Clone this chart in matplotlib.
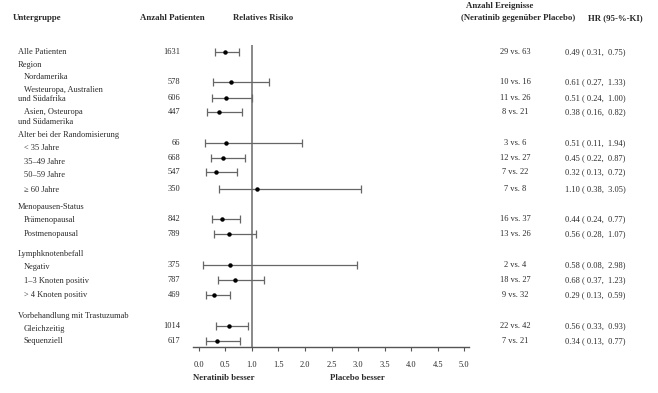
import matplotlib
matplotlib.use("Agg")
import matplotlib.pyplot as plt

# data
subgroups = ["Alle Patienten", "Nordamerika", "Westeuropa, Australien\nund Südafrika",
             "Asien, Osteuropa\nund Südamerika", "< 35 Jahre", "35–49 Jahre", "50–59 Jahre",
             "≥ 60 Jahre", "Prämenopausal", "Postmenopausal", "Negativ",
             "1–3 Knoten positiv", "> 4 Knoten positiv", "Gleichzeitig", "Sequenziell"]
patients = [1631, 578, 606, 447, 66, 668, 547, 350, 842, 789, 375, 787, 469, 1014, 617]
events = ["29 vs. 63", "10 vs. 16", "11 vs. 26", "8 vs. 21", "3 vs. 6", "12 vs. 27",
          "7 vs. 22", "7 vs. 8", "16 vs. 37", "13 vs. 26", "2 vs. 4", "18 vs. 27",
          "9 vs. 32", "22 vs. 42", "7 vs. 21"]
hr = [0.49, 0.61, 0.51, 0.38, 0.51, 0.45, 0.32, 1.10, 0.44, 0.56, 0.58, 0.68, 0.29, 0.56, 0.34]
lo = [0.31, 0.27, 0.24, 0.16, 0.11, 0.22, 0.13, 0.38, 0.24, 0.28, 0.08, 0.37, 0.13, 0.33, 0.13]
hi = [0.75, 1.33, 1.00, 0.82, 1.94, 0.87, 0.72, 3.05, 0.77, 1.07, 2.98, 1.23, 0.59, 0.93, 0.77]
groups = ["Region", "Alter bei der Randomisierung", "Menopausen-Status",
          "Lymphknotenbefall", "Vorbehandlung mit Trastuzumab"]
xticks = [0.0, 0.5, 1.0, 1.5, 2.0, 2.5, 3.0, 3.5, 4.0, 4.5, 5.0]

# layout (pixel rows)
row_y = [52, 82, 98, 112, 143, 158, 172, 189, 219, 234, 265, 280, 295, 326, 341]
label_y = [52, 77, 94.5, 117, 148, 162, 175, 190, 220, 234, 267, 281, 295, 329, 341]
group_y = [65, 135, 207, 254, 316]

W, H = 658, 393
fig = plt.figure(figsize=(W / 100, H / 100), dpi=100)
plt.rcParams['font.family'] = ['Liberation Serif', 'DejaVu Serif']
tc = '#2a2a2a'
fs = 6
fsb = 6.3


def ftxt(x, y, s, **kw):
    kw.setdefault('fontsize', fs)
    kw.setdefault('color', tc)
    kw.setdefault('va', 'center')
    fig.text(x / W, 1 - y / H, s, **kw)


ax = fig.add_axes([193 / W, 1 - 347 / H, 276 / W, 347 / H])
ax.set_xlim(-0.11, 5.09)
ax.set_ylim(347, 0)
ax.patch.set_visible(False)
for s in ['top', 'right', 'left']:
    ax.spines[s].set_visible(False)
ax.spines['bottom'].set_color('#555555')
ax.spines['bottom'].set_linewidth(1.0)
ax.set_yticks([])
ax.set_xticks(xticks)
ax.set_xticklabels(["%.1f" % t for t in xticks], fontsize=fs, color=tc)
ax.tick_params(axis='x', direction='out', length=3, width=0.8, color='#555555', pad=7)

ax.vlines(1.0, 45, 347, color='#808080', lw=1.3, zorder=1)
ax.errorbar(hr, row_y, xerr=[[h - l for h, l in zip(hr, lo)], [u - h for h, u in zip(hr, hi)]],
            fmt='o', color='black', ms=2.2, ecolor='#666666', elinewidth=0.9,
            capsize=3, capthick=0.9, zorder=3)

# headers
ftxt(13, 18, "Untergruppe", fontsize=fsb, fontweight='bold')
ftxt(172, 18, "Anzahl Patienten", fontsize=fsb, fontweight='bold', ha='center')
ftxt(263, 18, "Relatives Risiko", fontsize=fsb, fontweight='bold', ha='center')
ftxt(500, 6, "Anzahl Ereignisse", fontsize=fsb, fontweight='bold', ha='center')
ftxt(518, 18, "(Neratinib gegenüber Placebo)", fontsize=fsb, fontweight='bold', ha='center')
ftxt(615, 18, "HR (95-%-KI)", fontsize=fsb, fontweight='bold', ha='center')

for g, y in zip(groups, group_y):
    ftxt(18, y, g)

for i, lab in enumerate(subgroups):
    if i == 0:
        ftxt(18, label_y[i], lab)
    else:
        lines = lab.split("\n")
        if len(lines) == 1:
            ftxt(24, label_y[i], lab)
        else:
            ftxt(24, label_y[i] - 4.5, lines[0])
            ftxt(18, label_y[i] + 4.5, lines[1])
    ftxt(180, row_y[i], str(patients[i]), ha='right')
    ftxt(515, row_y[i], events[i], ha='center')
    ftxt(565, row_y[i], "%.2f ( %.2f,  %.2f)" % (hr[i], lo[i], hi[i]))

ftxt(193, 378, "Neratinib besser", fontsize=fsb, fontweight='bold')
ftxt(330, 378, "Placebo besser", fontsize=fsb, fontweight='bold')

fig.savefig("out.png", dpi=100)
